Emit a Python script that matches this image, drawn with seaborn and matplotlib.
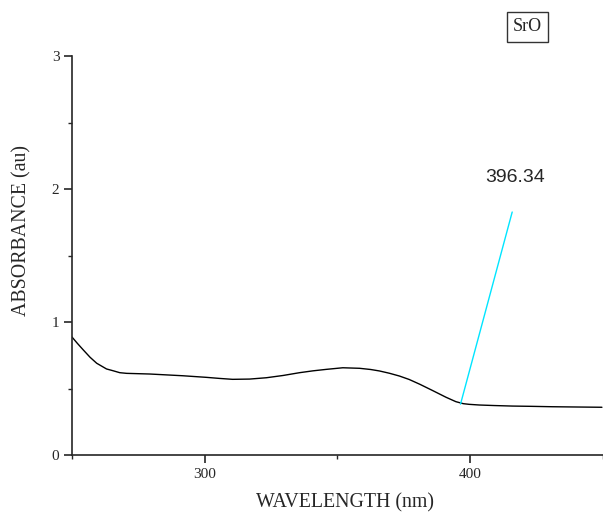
import matplotlib
matplotlib.use("Agg")
import matplotlib.pyplot as plt
import seaborn as sns
import pandas as pd
from matplotlib.ticker import MultipleLocator

wavelength = [250.0, 252.0, 254.3, 256.8, 259.3, 263.0, 265.4, 268.0, 270.6, 279.3,
              291.7, 300.6, 305.5, 310.5, 316.9, 323.2, 329.5, 335.7, 340.8, 345.8,
              352.0, 358.3, 362.5, 365.8, 369.5, 373.3, 377.0, 381.0, 385.8, 390.9,
              394.6, 397.4, 399.6, 403.4, 409.0, 415.9, 423.0, 430.9, 440.0, 449.6]
absorbance = [0.887, 0.840, 0.789, 0.735, 0.690, 0.647, 0.634, 0.619, 0.614, 0.609,
              0.596, 0.584, 0.576, 0.569, 0.571, 0.581, 0.598, 0.619, 0.633, 0.644,
              0.656, 0.652, 0.643, 0.632, 0.615, 0.594, 0.568, 0.532, 0.485, 0.434,
              0.401, 0.386, 0.381, 0.376, 0.372, 0.368, 0.366, 0.363, 0.361, 0.359]

peak_x = [396.34, 415.8]
peak_y = [0.383, 1.827]
peak_label = "396.34"
sample_label = "SrO"

sns.set_style("ticks")
plt.rcParams['font.family'] = ['Liberation Serif', 'DejaVu Serif']

fig = plt.figure(figsize=(6.03, 5.12), dpi=100)
ax = fig.add_axes([0.1194, 0.1113, 0.8806, 0.7793])

df = pd.DataFrame({"wl": wavelength, "abs": absorbance})
sns.lineplot(data=df, x="wl", y="abs", ax=ax, color="black", linewidth=1.0)
sns.lineplot(x=peak_x, y=peak_y, ax=ax, color="#00e5ff", linewidth=1.0)

ax.set_xlim(250, 450)
ax.set_ylim(0, 3)
ax.xaxis.set_major_locator(MultipleLocator(100))
ax.xaxis.set_minor_locator(MultipleLocator(50))
ax.yaxis.set_major_locator(MultipleLocator(1))
ax.yaxis.set_minor_locator(MultipleLocator(0.5))
ax.tick_params(which='major', direction='out', length=6, width=1.2, labelsize=11, pad=3)
ax.tick_params(which='minor', direction='out', length=3, width=1.0)
for s in ['top', 'right']:
    ax.spines[s].set_visible(False)
for s in ['left', 'bottom']:
    ax.spines[s].set_linewidth(1.2)

ax.set_xlabel("")
ax.set_ylabel("")
fig.text(0.572, 0.0176, "WAVELENGTH (nm)", fontsize=14.3, ha='center', va='center')
fig.text(0.036, 0.549, "ABSORBANCE (au)", fontsize=14.3, ha='center', va='center',
         rotation=90)

ax.text(416.9, 2.083, peak_label, fontsize=14, family='Liberation Sans', ha='center', va='center')
fig.text(0.8748, 0.9473, sample_label, fontsize=13, ha='center', va='center',
         bbox=dict(boxstyle='square,pad=0.35', facecolor='white', edgecolor='#333333', linewidth=1.0))

fig.savefig("out.png", dpi=100)
